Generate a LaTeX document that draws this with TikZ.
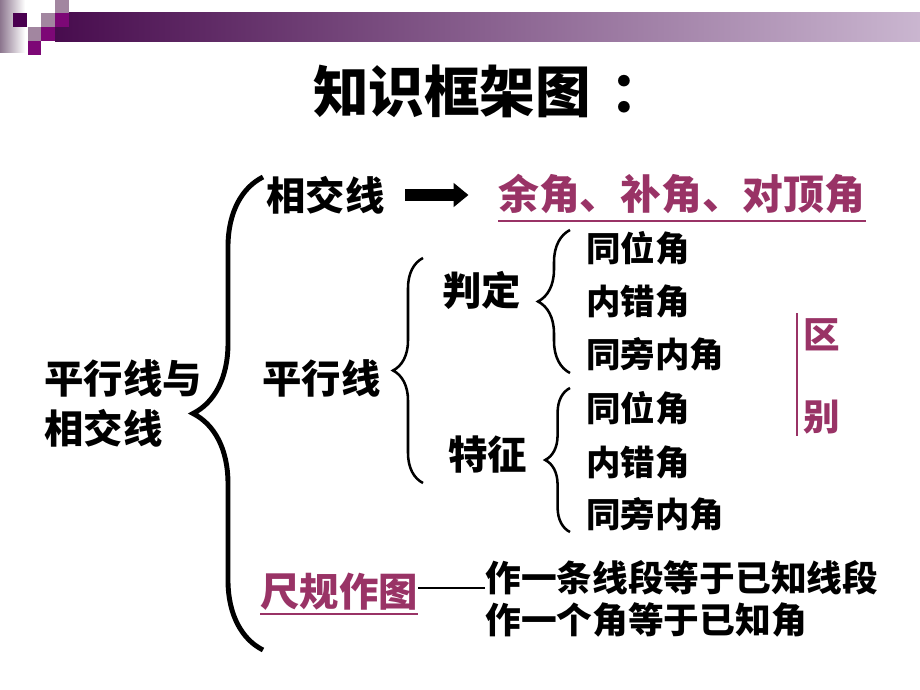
\documentclass[tikz,border=0pt]{standalone}
\usepackage{fontspec}
\newfontfamily\cjk{Noto Sans CJK SC}
\definecolor{anglepink}{RGB}{153, 51, 102}
\definecolor{bardark}{RGB}{72, 12, 78}
\definecolor{barlight}{RGB}{202, 182, 208}
\definecolor{edgegray}{RGB}{140, 118, 142}
\definecolor{tiledark}{RGB}{74, 0, 80}
\definecolor{tilemauve}{RGB}{162, 134, 160}
\definecolor{tilemag}{RGB}{125, 8, 118}
\usetikzlibrary{arrows.meta, positioning, calc, decorations.pathreplacing}

\begin{document}
\begin{tikzpicture}[x=0.025cm, y=-0.025cm,
  big/.style={font={\cjk\bfseries\fontsize{28}{35.5}\selectfont}, inner sep=0pt, anchor=west},
  item/.style={font={\cjk\bfseries\fontsize{24.5}{30}\selectfont}, inner sep=0pt, anchor=west},
  curly/.style={decorate, decoration={brace, amplitude=#1}},
  ul/.style={anglepink, line width=1.1pt},
  tile/.style={fill=#1, draw=none}]
  \useasboundingbox (0,0) rectangle (920,690);
  \fill[white] (0,0) rectangle (920,690);

  % Banner strip
  \shade[left color=edgegray, right color=white] (0,0) rectangle (25,53);
  \shade[left color=bardark, right color=barlight] (55,13) rectangle (920,42);
  \fill[tile=tiledark] (13,13) rectangle (27,27);
  \fill[tile=tilemauve] (41,13) rectangle (55,27);
  \fill[tile=tilemauve] (55,0) rectangle (69,13);
  \fill[tile=tilemag] (55,13) rectangle (69,27);
  \fill[tile=tilemauve] (28,27) rectangle (41,41);
  \fill[tile=tilemag] (41,27) rectangle (55,41);
  \fill[tile=tilemag] (28,41) rectangle (41,55);

  % Title
  \node[font={\cjk\bfseries\fontsize{39.5}{46}\selectfont}, inner sep=0pt, anchor=west] (title) at (313,91) {知识框架图\kern14pt：};

  % Root
  \node[big, align=left] (root) at (44,403) {平行线与\\相交线};
  \draw[curly=1.75cm, line width=3.5pt] (263,650) -- (263,177);

  % Intersecting lines
  \node[big] (xj) at (266,195) {相交线};
  \node[big, anglepink, font={\cjk\bfseries\fontsize{29}{35}\selectfont}] (yj) at (498,194) {余角、补角、对顶角};
  \draw[line width=8.5pt, -{Triangle[length=10.5pt, width=16.5pt]}, shorten <=14.5pt, shorten >=21pt]
    (xj.east) -- (xj.east -| yj.west);
  \draw[ul] ($(yj.south west)+(0,7)$) -- ($(yj.south east)+(0,7)$);

  % Parallel lines
  \node[big] (pxl) at (262,378) {平行线};
  \draw[curly=0.75cm, line width=1.8pt] (423,483) -- (423,258);
  \node[big] (pd) at (442,290) {判定};
  \node[big] (tz) at (448,455) {特征};
  \draw[curly=0.8cm, line width=1.8pt] (570,373) -- (570,230);
  \draw[curly=0.62cm, line width=1.8pt] (570,532) -- (570,388);

  \node[item] (pd1) at (586,248) {同位角};
  \node[item] (pd2) at (586,301) {内错角};
  \node[item] (pd3) at (586,354) {同旁内角};
  \node[item] (tz1) at (586,408) {同位角};
  \node[item] (tz2) at (586,462) {内错角};
  \node[item] (tz3) at (586,514) {同旁内角};

  % Difference mark
  \node[font={\cjk\bfseries\fontsize{26}{30}\selectfont}, inner sep=0pt, anglepink] (qu) at (822,335) {区};
  \node[font={\cjk\bfseries\fontsize{26}{30}\selectfont}, inner sep=0pt, anglepink] (bie) at (822,417) {别};
  \draw[anglepink, line width=1.1pt] (797,313) -- (797,436);

  % Constructions
  \node[big, anglepink] (cg) at (260,592) {尺规作图};
  \draw[ul] ($(cg.south west)+(0,3)$) -- ($(cg.south east)+(0,3)$);
  \node[item, font={\cjk\bfseries\fontsize{25.4}{30}\selectfont}] (zy1) at (485,578) {作一条线段等于已知线段};
  \node[item, font={\cjk\bfseries\fontsize{25.4}{30}\selectfont}] (zy2) at (485,620) {作一个角等于已知角};
  \coordinate (dashend) at ($(cg.east)+(0,-4)$);
  \draw[line width=0.9pt] (dashend) -- (dashend -| zy1.west);
\end{tikzpicture}
\end{document}
